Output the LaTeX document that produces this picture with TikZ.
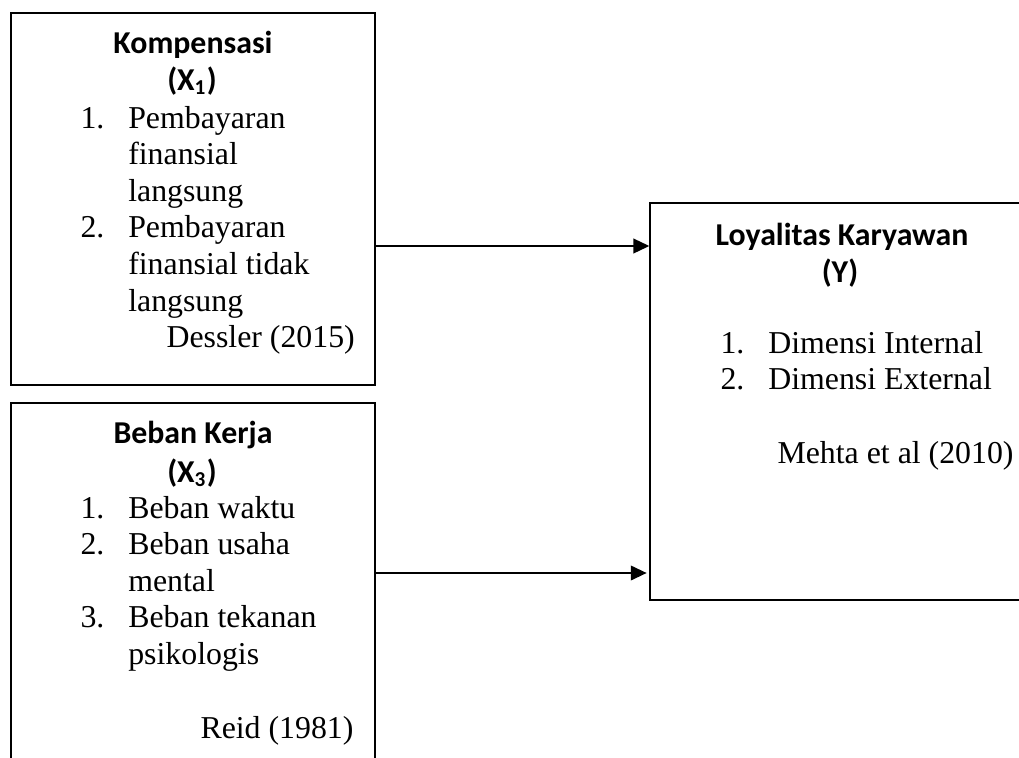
\documentclass[tikz,border=0pt]{standalone}
\usepackage{fontspec}
\setmainfont{Liberation Serif}
\newfontfamily\calibri{Carlito}
\usetikzlibrary{arrows.meta,fit}

\begin{document}
\begin{tikzpicture}[
    x=0.377pt, y=-0.377pt,
    varbox/.style={rectangle, draw, line width=0.45pt, inner sep=0pt},
    head/.style={anchor=base, inner sep=0pt, font=\calibri\bfseries\fontsize{12}{14}\selectfont},
    items/.style={anchor=base west, inner sep=0pt, font=\fontsize{12}{13.8}\selectfont},
    source/.style={anchor=base west, inner sep=0pt, font=\fontsize{12}{13.8}\selectfont},
    arrow/.style={-{Triangle[length=6pt,width=5.4pt]}, line width=1pt}
  ]
    \clip (0,0) rectangle (1019,758);

    % Boxes
    \node[varbox, fit={(11,13) (375,385)}] (box1) {};
    \node[varbox, fit={(11,403) (375,790)}] (box2) {};
    \node[varbox, fit={(650,203) (1060,600)}] (box3) {};

    % Kompensasi
    \node[head] (head1) at (193,53) {Kompensasi};
    \node[head] (sub1) at (192,90) {(X\textsubscript{1})};
    \node[items] (list1) at (80,128) {\begin{tabular}[t]{@{}p{18pt}@{}l@{}}
      1. & Pembayaran\\
         & finansial\\
         & langsung\\
      2. & Pembayaran\\
         & finansial tidak\\
         & langsung
    \end{tabular}};
    \node[source] (src1) at (166,347) {Dessler (2015)};

    % Beban Kerja
    \node[head] (head2) at (193,443) {Beban Kerja};
    \node[head] (sub2) at (192,482) {(X\textsubscript{3})};
    \node[items] (list2) at (80,518) {\begin{tabular}[t]{@{}p{18pt}@{}l@{}}
      1. & Beban waktu\\
      2. & Beban usaha\\
         & mental\\
      3. & Beban tekanan\\
         & psikologis
    \end{tabular}};
    \node[source] (src2) at (200,738) {Reid (1981)};

    % Loyalitas Karyawan
    \node[head] (head3) at (842,245) {Loyalitas Karyawan};
    \node[head] (sub3) at (840,282) {(Y)};
    \node[items] (list3) at (720,353) {\begin{tabular}[t]{@{}p{18pt}@{}l@{}}
      1. & Dimensi Internal\\
      2. & Dimensi External
    \end{tabular}};
    \node[source] (src3) at (777,463) {Mehta et al (2010)};

    % Arrows
    \coordinate (y1) at (0,246);
    \coordinate (y2) at (0,573);
    \draw[arrow] (y1 -| box1.east) -- (y1 -| box3.west);
    \draw[arrow, shorten >=1pt] (y2 -| box2.east) -- (y2 -| box3.west);

  \end{tikzpicture}
\end{document}
